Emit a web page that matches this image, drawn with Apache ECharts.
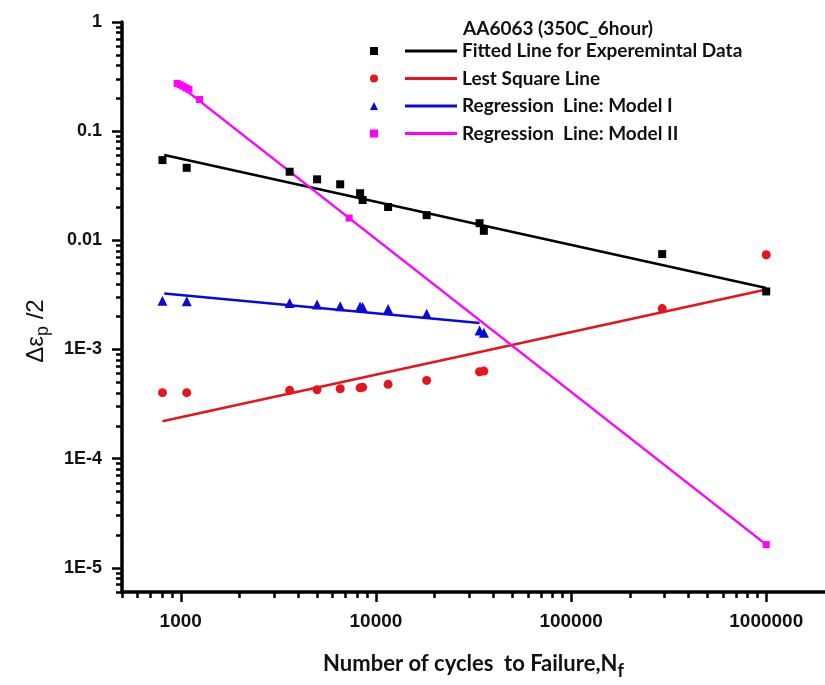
<!DOCTYPE html>
<html><head><meta charset="utf-8">
<script src="https://cdn.jsdelivr.net/npm/echarts@6/dist/echarts.min.js"></script>
<style>html,body{margin:0;padding:0;background:#fff}#c{width:825px;height:685px}</style>
</head><body><div id="c"></div>
<script>
// ---- data ----
const cyclesExp = [806, 1073, 3614, 4995, 6561, 8298, 8551, 11547, 18200, 33960, 35730, 293000, 1000000];
const strainExp = [0.0543, 0.0462, 0.0425, 0.0362, 0.0326, 0.0270, 0.0234, 0.0202, 0.0170, 0.01435, 0.01222, 0.00748, 0.0034];
const strainLSQ = [4.02e-4, 4.02e-4, 4.22e-4, 4.28e-4, 4.37e-4, 4.45e-4, 4.50e-4, 4.79e-4, 5.21e-4, 6.25e-4, 6.34e-4, 2.37e-3, 7.37e-3];
const cyclesM1 = [806, 1073, 3614, 4995, 6561, 8298, 8551, 11547, 18200, 33960, 35730];
const strainM1 = [2.80e-3, 2.76e-3, 2.67e-3, 2.58e-3, 2.49e-3, 2.48e-3, 2.45e-3, 2.35e-3, 2.12e-3, 1.49e-3, 1.42e-3];
const cyclesM2 = [958, 992, 1027, 1064, 1102, 1249, 7295, 1000000];
const strainM2 = [0.274, 0.266, 0.258, 0.249, 0.242, 0.195, 0.0160, 1.63e-5];

const fitExpX = [823, 1000000];      const fitExpY = [0.0604, 0.00366];
const fitLSQX = [806, 1000000];      const fitLSQY = [2.2e-4, 3.55e-3];
const fitM1X  = [823, 33960];        const fitM1Y  = [3.25e-3, 1.75e-3];
const fitM2X  = [958, 1000000];      const fitM2Y  = [0.274, 1.63e-5];

const xMajor = [1000, 10000, 100000, 1000000];
const xMinor = [500, 600, 700, 800, 900,
  2000, 3000, 4000, 5000, 6000, 7000, 8000, 9000,
  20000, 30000, 40000, 50000, 60000, 70000, 80000, 90000,
  200000, 300000, 400000, 500000, 600000, 700000, 800000, 900000];
const yMajor = [1, 0.1, 0.01, 0.001, 0.0001, 0.00001];
const yMinor = [6e-6, 7e-6, 8e-6, 9e-6,
  2e-5, 3e-5, 4e-5, 5e-5, 6e-5, 7e-5, 8e-5, 9e-5,
  2e-4, 3e-4, 4e-4, 5e-4, 6e-4, 7e-4, 8e-4, 9e-4,
  2e-3, 3e-3, 4e-3, 5e-3, 6e-3, 7e-3, 8e-3, 9e-3,
  0.02, 0.03, 0.04, 0.05, 0.06, 0.07, 0.08, 0.09,
  0.2, 0.3, 0.4, 0.5, 0.6, 0.7, 0.8, 0.9];

const zip = (a, b) => a.map((v, i) => [v, b[i]]);

const C_BLACK = '#000000', C_RED = '#e8141c', C_BLUE = '#0a0ad8', C_MAG = '#ff00ff';
const numFont = '"Liberation Sans", Arial, sans-serif';
const txtFont = 'Lato, "Open Sans", sans-serif';

const scatterNames = ['Exp data', 'LSQ data', 'Model I data', 'Model II data'];
const lineNames = ['Fitted Line for Experemintal Data', 'Lest Square Line', 'Regression  Line: Model I', 'Regression  Line: Model II'];

function yLabel(v) {
  const e = Math.round(Math.log10(v));
  if (e >= -2) return String(Math.pow(10, e).toFixed(Math.max(0, -e)));
  return '1E' + e;
}

const axisMain = (isX) => ({
  type: 'log', logBase: 10,
  min: isX ? 500 : 6e-6, max: isX ? 2e6 : 1,
  axisLine: { show: true, onZero: false, lineStyle: { color: '#000', width: 3.5 } },
  axisTick: { show: true, inside: false, length: 10, customValues: isX ? xMajor : yMajor, lineStyle: { color: '#000', width: 2.5 } },
  axisLabel: {
    customValues: isX ? xMajor : yMajor,
    margin: isX ? 20 : 20,
    fontFamily: numFont, fontWeight: 'bold', fontSize: isX ? 19 : 18, color: '#111',
    formatter: isX ? (v => String(Math.round(v))) : yLabel
  },
  splitLine: { show: false }, minorTick: { show: false }
});
const axisMinor = (isX) => ({
  type: 'log', logBase: 10,
  min: isX ? 500 : 6e-6, max: isX ? 2e6 : 1,
  position: isX ? 'bottom' : 'left',
  axisLine: { show: false },
  axisTick: { show: true, inside: false, length: 6, customValues: isX ? xMinor : yMinor, lineStyle: { color: '#000', width: 2.5 } },
  axisLabel: { show: false },
  splitLine: { show: false }
});

const xName = Object.assign(axisMain(true), {
  name: '{a|Number of cycles  to Failure,N}{s|f}',
  nameLocation: 'middle', nameGap: 56, nameMoveOverlap: false,
  nameTextStyle: {
    rich: {
      a: { fontFamily: txtFont, fontWeight: 'bold', fontSize: 22, color: '#111', lineHeight: 32 },
      s: { fontFamily: txtFont, fontWeight: 'bold', fontSize: 18, color: '#111', lineHeight: 18, verticalAlign: 'bottom' }
    }
  }
});
const yName = Object.assign(axisMain(false), {
  name: '{a|Δε}{s|p}{a| /2}',
  nameLocation: 'middle', nameGap: 70, nameRotate: 90, nameMoveOverlap: false,
  nameTextStyle: {
    padding: [0, 48, 0, 0],
    rich: {
      a: { fontFamily: numFont, fontSize: 24, color: '#111', lineHeight: 32 },
      s: { fontFamily: numFont, fontSize: 18, color: '#111', lineHeight: 18, verticalAlign: 'bottom' }
    }
  }
});

const legendText = { fontFamily: txtFont, fontWeight: 'bold', fontSize: 19, color: '#111', lineHeight: 22 };

const option = {
  animation: false,
  backgroundColor: '#ffffff',
  grid: { left: 122, top: 22, right: -7, bottom: 92, containLabel: false },
  title: {
    text: 'AA6063 (350C_6hour)', left: 458, top: 14,
    textStyle: { fontFamily: txtFont, fontWeight: 'bold', fontSize: 19, color: '#111' }
  },
  legend: [
    { data: scatterNames, orient: 'vertical', left: 365, top: 35, itemWidth: 8, itemHeight: 8, itemGap: 5.5,
      formatter: () => ' ', textStyle: legendText, selectedMode: false },
    { data: lineNames.map(n => ({ name: n, icon: 'rect' })), orient: 'vertical', left: 400, top: 35, itemWidth: 52, itemHeight: 3, itemGap: 5.5,
      textStyle: legendText, selectedMode: false }
  ],
  xAxis: [xName, axisMinor(true)],
  yAxis: [yName, axisMinor(false)],
  series: [
    { name: lineNames[0], type: 'line', data: zip(fitExpX, fitExpY), symbol: 'none', lineStyle: { color: C_BLACK, width: 2.5 }, itemStyle: { color: C_BLACK }, z: 2 },
    { name: lineNames[1], type: 'line', data: zip(fitLSQX, fitLSQY), symbol: 'none', lineStyle: { color: C_RED, width: 2.5 }, itemStyle: { color: C_RED }, z: 2 },
    { name: lineNames[2], type: 'line', data: zip(fitM1X, fitM1Y), symbol: 'none', lineStyle: { color: C_BLUE, width: 2.5 }, itemStyle: { color: C_BLUE }, z: 2 },
    { name: lineNames[3], type: 'line', data: zip(fitM2X, fitM2Y), symbol: 'none', lineStyle: { color: C_MAG, width: 2.5 }, itemStyle: { color: C_MAG }, z: 2 },
    { name: scatterNames[0], type: 'scatter', data: zip(cyclesExp, strainExp), symbol: 'rect', symbolSize: 8, itemStyle: { color: C_BLACK, opacity: 1 }, z: 3 },
    { name: scatterNames[1], type: 'scatter', data: zip(cyclesExp, strainLSQ), symbol: 'circle', symbolSize: 9, itemStyle: { color: C_RED, opacity: 1 }, z: 3 },
    { name: scatterNames[2], type: 'scatter', data: zip(cyclesM1, strainM1), symbol: 'triangle', symbolSize: 10, itemStyle: { color: C_BLUE, opacity: 1 }, z: 3 },
    { name: scatterNames[3], type: 'scatter', data: zip(cyclesM2, strainM2), symbol: 'rect', symbolSize: 7, itemStyle: { color: C_MAG, opacity: 1 }, z: 3 }
  ]
};

const chart = echarts.init(document.getElementById('c'), null, { renderer: 'canvas' });
chart.setOption(option);
</script>
</body></html>
